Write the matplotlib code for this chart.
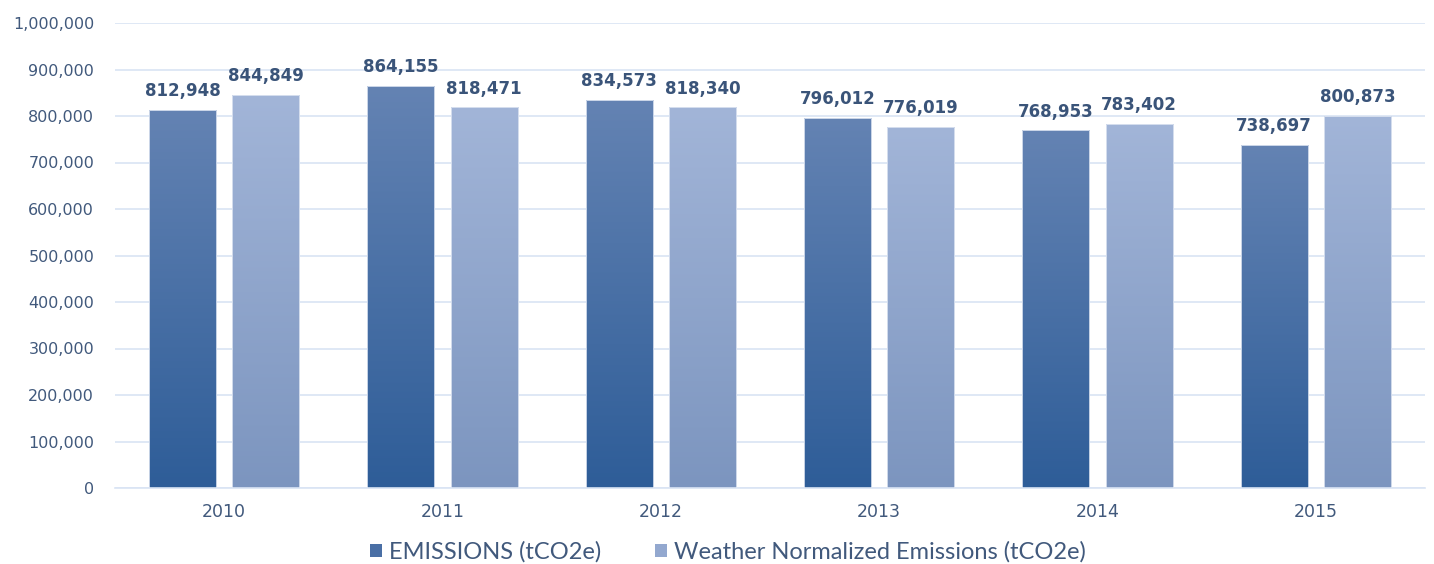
import matplotlib
matplotlib.use("Agg")
import matplotlib.pyplot as plt
import numpy as np
from matplotlib.colors import LinearSegmentedColormap
from matplotlib.patches import Patch

years = ["2010", "2011", "2012", "2013", "2014", "2015"]
emissions = [812948, 864155, 834573, 796012, 768953, 738697]
weather_norm = [844849, 818471, 818340, 776019, 783402, 800873]
series_names = ["EMISSIONS (tCO2e)", "Weather Normalized Emissions (tCO2e)"]
yticks = list(range(0, 1000001, 100000))

dark_top, dark_bot = "#6483b3", "#2e5d98"
light_top, light_bot = "#a2b5d8", "#7c95bf"
label_color = "#3a5479"
tick_color = "#41597c"
grid_color = "#d9e4f4"

fig = plt.figure(figsize=(14.34, 5.64), dpi=100)
ax = fig.add_axes([115/1434, 1-488/564, (1425-115)/1434, (488-23)/564])

x = np.arange(len(years))
width = 0.307
off = 0.191

def grad_bars(xs, vals, top, bot):
    bars = ax.bar(xs, vals, width, color="none", edgecolor="#dfe6f2", linewidth=0.6, zorder=3)
    cmap = LinearSegmentedColormap.from_list("g", [bot, top])
    grad = np.linspace(0, 1, 256).reshape(-1, 1)
    for b in bars:
        x0, y0 = b.get_x(), b.get_y()
        w, h = b.get_width(), b.get_height()
        im = ax.imshow(grad, cmap=cmap, aspect="auto", origin="lower",
                       extent=[x0, x0 + w, y0, y0 + h], zorder=2, interpolation="bicubic")
        im.set_clip_path(b)
    return bars

b1 = grad_bars(x - off, emissions, dark_top, dark_bot)
b2 = grad_bars(x + off, weather_norm, light_top, light_bot)

for bars, vals in ((b1, emissions), (b2, weather_norm)):
    for b, v in zip(bars, vals):
        ax.annotate(f"{v:,}", (b.get_x() + b.get_width()/2, v), xytext=(0, 7),
                    textcoords="offset points", ha="center", va="bottom",
                    fontsize=12, fontweight="bold", color=label_color, zorder=5,
                    family="DejaVu Sans")

ax.set_xlim(-0.5, len(years) - 0.5)
ax.set_ylim(0, 1000000)
ax.set_yticks(yticks)
ax.set_yticklabels([f"{t:,}" for t in yticks], family="DejaVu Sans", fontsize=11.5)
ax.set_xticks(x)
ax.set_xticklabels(years, family="DejaVu Sans", fontsize=12.5)
ax.tick_params(axis="both", length=0, colors=tick_color)
ax.tick_params(axis="y", pad=15)
ax.tick_params(axis="x", pad=11)
ax.grid(axis="y", color=grid_color, linewidth=1.2, zorder=0)
ax.set_axisbelow(True)
for s in ["top", "right", "left"]:
    ax.spines[s].set_visible(False)
ax.spines["bottom"].set_color(grid_color)
ax.spines["bottom"].set_linewidth(1.2)

handles = [Patch(facecolor="#4a6fa5", edgecolor="none"),
           Patch(facecolor="#93a8cf", edgecolor="none")]
fig.legend(handles, series_names, loc="center", bbox_to_anchor=(728/1434, 1-552/564),
           ncol=2, frameon=False, handlelength=0.5, handleheight=0.5,
           handletextpad=0.3, columnspacing=2.3, labelcolor=tick_color,
           prop={"family": "Lato", "size": 17})

fig.savefig("out.png", dpi=100)
